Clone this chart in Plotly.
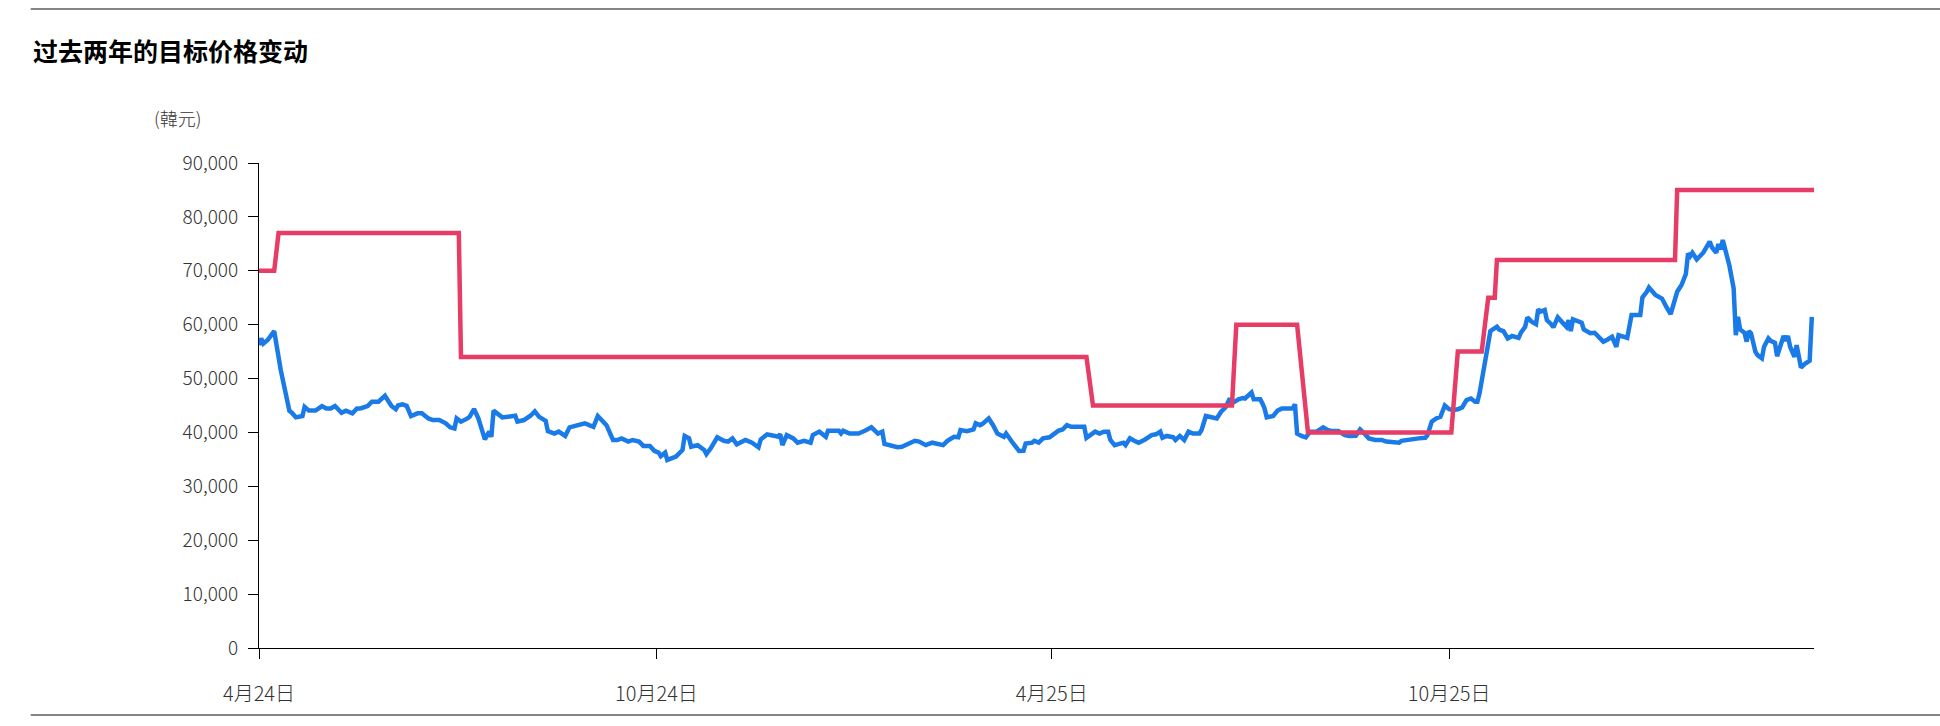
import pandas as pd
import plotly.graph_objects as go

# ---------------- data ----------------
start_date = "2024-04-01"

# target price (step changes), day offsets from start_date
target_days = [0, 7, 9, 92, 93, 381, 384, 448, 450, 478, 483, 549, 552, 563, 566, 569, 570, 652, 653, 716]
target_values = [70000, 70000, 77000, 77000, 54000, 54000, 45000, 45000, 60000, 60000,
                 40000, 40000, 55000, 55000, 65000, 65000, 72000, 72000, 85000, 85000]

# share price, day offsets from start_date
price_days = [
    0, 1, 2, 4, 7, 10, 14, 15, 17, 20, 21, 23, 26, 29, 31, 33, 35, 38, 40, 43, 45, 47, 50, 52, 55, 58,
    61, 63, 64, 66, 68, 70, 73, 75, 78, 80, 83, 86, 88, 90, 91, 93, 96, 97, 99, 101, 104, 106, 107, 108,
    112, 115, 118, 119, 122, 125, 127, 129, 132, 133, 136, 138, 141, 143, 146, 150, 152, 154, 156, 158,
    160, 163, 165, 167, 170, 172, 175, 177, 180, 182,
    184, 185, 187, 188, 191, 192, 195, 196, 198, 199, 202, 205, 206, 208, 211, 214, 216, 218, 220, 222,
    224, 227, 230, 231, 234, 237, 239, 240, 241, 243, 246, 248, 251, 254, 255, 258, 261, 262, 267, 268,
    269, 272, 276, 279, 282, 285, 287, 288, 291, 294, 296, 298, 302, 304, 307, 310, 313, 315, 317, 320,
    322, 323, 326, 329, 330, 332, 333, 336, 338, 340, 343, 344, 347, 350, 352, 353, 356, 357, 359, 361, 364,
    366, 368, 370, 372, 374, 377, 380, 381, 383, 385, 387, 389, 391, 392, 394, 396, 398, 399, 401, 403,
    405, 408, 411, 413, 415, 416, 418, 421, 422, 424, 426, 428, 430, 433, 434, 436, 438, 441, 443, 445,
    447, 448, 451, 453, 454, 457, 458, 461, 462, 463, 464, 467, 469, 471, 474, 476, 477, 478, 480, 482,
    484, 487, 490, 492, 494, 497, 500, 502, 505, 507, 509, 511, 514, 517, 519, 522, 525, 526, 528, 530,
    534, 537, 538, 540, 542, 544, 546, 548, 550, 552, 554, 556, 558, 560, 561, 562, 563, 565, 567, 568,
    570, 571, 573, 575, 577, 580, 581, 583, 584, 586, 588, 589, 590, 592, 593, 595, 596, 598, 600, 602,
    603, 604, 605, 607, 609, 610, 613, 615, 617, 619, 621, 623, 625, 626, 630, 632, 636, 637, 639, 640,
    643, 646, 648, 650, 653, 655, 657, 658, 659, 660, 662, 665, 668, 669, 671, 672, 673, 674, 677, 679,
    680, 681, 682, 684, 685, 686, 687, 689, 690, 692, 693, 695, 696, 698, 699, 702, 703, 704, 705, 707,
    708, 709, 710, 712, 714, 715,
]
price_values = [
    56200, 57450, 56500, 57150, 58800, 51600, 44000, 43700, 42800, 43050, 44750, 44050, 44050, 44900, 44450, 44450, 44900, 43650, 44050, 43550, 44400, 44500, 44900, 45700, 45700, 46800,
    44900, 44300, 45000, 45200, 44950, 43050, 43550, 43550, 42600, 42300, 42300, 41700, 40950, 40750, 42600, 42000, 42600, 42900, 44350, 42600, 38700, 40150, 39200, 44050,
    42800, 42900, 43100, 42000, 42300, 43100, 43900, 42900, 42150, 40250, 39800, 40150, 39350, 40950, 41350, 41700, 41350, 41050, 43050, 42150,
    41350, 38600, 38600, 38900, 38300, 38600, 38300, 37500, 37500, 36600,
    36250, 35600, 36250, 34900, 35200, 35500, 36750, 39350, 38900, 37350, 37650, 36750, 36000, 37050, 39100, 38450, 38300, 38900, 37800, 38300,
    38600, 38100, 37250, 38700, 39650, 39400, 39200, 39700, 37650, 39500, 38900, 38100, 38450, 38100, 39500, 40150, 39200, 40300, 40300, 39800,
    40300, 39800, 39800, 40300, 40950, 39800, 40150, 37850, 37500, 37250, 37350, 37650, 38450, 38300, 37650, 38100, 37850, 37650, 38450, 39200,
    39100, 40450, 40250, 40550, 41700, 41350, 41550, 42600, 41350, 39800, 39200, 39800, 38100, 36550, 36600, 37950, 38100, 38450, 38100, 38900, 39100,
    39800, 40300, 40550, 41350, 41050, 41050, 41050, 39000, 39650, 40150, 39800, 40150, 40150, 38600, 37650, 37850, 38100, 37650, 38900, 38450,
    38100, 38700, 39500, 39650, 40150, 39000, 39350, 39100, 38600, 39350, 38600, 40150, 39800, 39800, 40450, 43050, 42900, 42600, 43850, 44650,
    46300, 45400, 46150, 46400, 46300, 47400, 46150, 46150, 45400, 44450, 42800, 43050, 44050, 44450, 44450, 44450, 45250, 39800, 39350, 39100,
    40150, 40150, 40950, 40450, 40250, 40250, 39500, 39350, 39400, 40550, 39800, 38900, 38600, 38600, 38300, 38100, 38100, 38450, 38600, 38700,
    38900, 39000, 39500, 42000, 42600, 42900, 45000, 44300, 44150, 44300, 44650, 46000, 46300, 45700, 45700, 47250, 49700, 55000, 58800, 59100,
    59600, 59100, 58800, 57450, 57900, 57550, 58500, 59600, 61350, 60550, 60100, 62850, 62400, 62700, 60850, 60100, 59500, 61350, 60350, 59600,
    60850, 58800, 61000, 60750, 60350, 59100, 58400, 58500, 57750, 56850, 57250, 57750, 55900, 58050, 57550, 61800, 61800, 65050, 66100, 66900,
    65500, 64850, 63300, 61950, 66100, 67350, 69400, 73200, 72700, 73350, 72100, 73350, 75400, 74350, 73350, 74950, 73950, 75700, 71050, 66750,
    58050, 61450, 59100, 58500, 56850, 58800, 58400, 55000, 54350, 53750, 55900, 57450, 57000, 56650, 54150, 57900, 57000, 57900, 55900, 54050,
    56200, 53550, 52050, 52800, 53300, 61450,
]

x_tick_days = [0, 183, 365, 548]
x_tick_labels = ["4月24日", "10月24日", "4月25日", "10月25日"]
y_tick_values = [0, 10000, 20000, 30000, 40000, 50000, 60000, 70000, 80000, 90000]

title_text = "过去两年的目标价格变动"
unit_text = "(韓元)"

# ---------------- build ----------------
base = pd.Timestamp(start_date)
to_dates = lambda days: [base + pd.Timedelta(days=d) for d in days]

target_x = to_dates(target_days)
price_x = to_dates(price_days)
tick_x = to_dates(x_tick_days)

BLUE = "#1A7BE8"
RED = "#E63C66"
FONT = "Noto Sans CJK SC"

fig = go.Figure()
fig.add_trace(go.Scatter(x=price_x, y=price_values, mode="lines",
                         line=dict(color=BLUE, width=4.5), name="股价", showlegend=False))
fig.add_trace(go.Scatter(x=target_x, y=target_values, mode="lines",
                         line=dict(color=RED, width=4.5), name="目标价", showlegend=False))

fig.update_layout(
    width=1940, height=726,
    margin=dict(l=259, r=126, t=163, b=78),
    paper_bgcolor="white", plot_bgcolor="white",
    font=dict(family=FONT, color="#333333"),
    showlegend=False,
)

fig.update_xaxes(
    type="date",
    range=[base, base + pd.Timedelta(days=716)],
    tickmode="array", tickvals=tick_x, ticktext=x_tick_labels,
    ticks="outside", ticklen=10, tickwidth=1, tickcolor="black",
    showline=True, linecolor="black", linewidth=1,
    showgrid=False, zeroline=False,
    tickfont=dict(family=FONT, size=20, color="#333333", weight=300),
    ticklabelstandoff=18,
)
fig.update_yaxes(
    range=[0, 90000],
    tickmode="array", tickvals=y_tick_values, tickformat=",",
    ticks="outside", ticklen=10, tickwidth=1, tickcolor="black",
    showline=True, linecolor="black", linewidth=1,
    showgrid=False, zeroline=False,
    tickfont=dict(family=FONT, size=19, color="#333333", weight=300),
    ticklabelstandoff=6,
)

# title and unit label
fig.add_annotation(text=title_text, xref="paper", yref="paper",
                   x=-0.1465, y=1.2330, xanchor="left", yanchor="middle",
                   showarrow=False, font=dict(family=FONT, size=25, color="#000000", weight="bold"))
fig.add_annotation(text=unit_text, xref="paper", yref="paper",
                   x=-0.0690, y=1.0928, xanchor="left", yanchor="middle",
                   showarrow=False, font=dict(family=FONT, size=18, color="#333333", weight=300))

# top and bottom separator rules
for yy in (1.3175, -0.1381):
    fig.add_shape(type="line", xref="paper", yref="paper",
                  x0=-0.1468, x1=1.09, y0=yy, y1=yy,
                  line=dict(color="#858585", width=2))

fig.write_html("out.html", post_script="document.body.style.margin='0';")
